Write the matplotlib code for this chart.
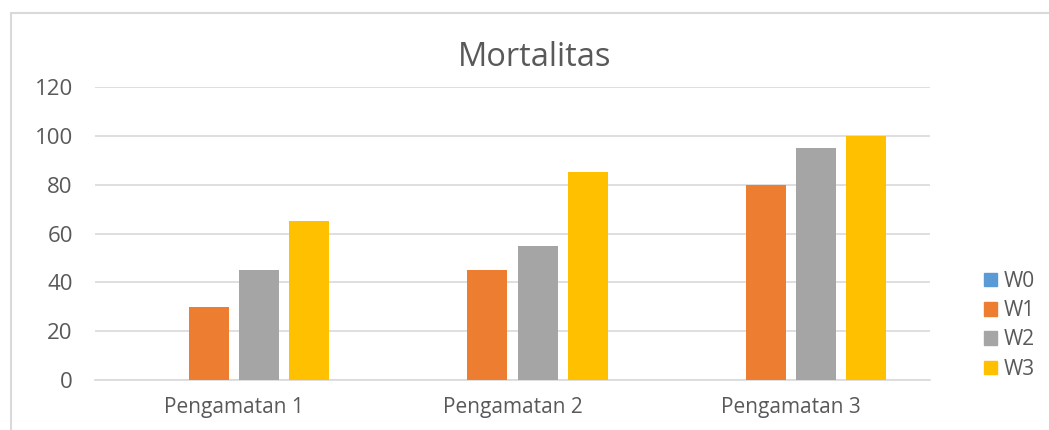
import matplotlib.pyplot as plt
import matplotlib.patches as mpatches
import numpy as np

categories = ["Pengamatan 1", "Pengamatan 2", "Pengamatan 3"]
series = ["W0", "W1", "W2", "W3"]
w0 = [0, 0, 0]
w1 = [30, 45, 80]
w2 = [45, 55, 95]
w3 = [65, 85, 100]
values = [w0, w1, w2, w3]
colors = ["#5B9BD5", "#ED7D31", "#A5A5A5", "#FFC000"]

plt.rcParams['font.family'] = ['Open Sans', 'DejaVu Sans']
txt = "#595959"

fig = plt.figure(figsize=(10.49, 4.3), dpi=100)
ax = fig.add_axes([95/1049, 1-380/430, 835/1049, 293/430])

# chart border (only top/left visible in the crop)
fig.add_artist(mpatches.Rectangle((11/1049, -0.5), 2, 0.5 + 1 - 13/430,
                                  transform=fig.transFigure, fill=False,
                                  edgecolor="#D9D9D9", linewidth=1.5))

x = np.arange(len(categories))
width = 0.144
offsets = [-0.27, -0.09, 0.09, 0.27]
for vals, off, col, name in zip(values, offsets, colors, series):
    ax.bar(x + off, vals, width, color=col, label=name, zorder=3)

ax.set_xlim(-0.5, 2.5)
ax.set_ylim(0, 120)
ax.set_yticks(range(0, 121, 20))
ax.set_xticks(x)
ax.set_xticklabels(categories)
ax.grid(axis='y', color="#D9D9D9", linewidth=1.2, zorder=0)
for s in ['top', 'right', 'left']:
    ax.spines[s].set_visible(False)
ax.spines['bottom'].set_color("#D9D9D9")
ax.spines['bottom'].set_linewidth(1.2)
ax.tick_params(axis='y', length=0, labelsize=16, colors=txt, pad=16)
ax.tick_params(axis='x', length=0, labelsize=15, colors=txt, pad=12)

fig.text(535/1049, 1-58/430, "Mortalitas", ha='center', va='center',
         fontsize=23.5, color=txt)

handles = [mpatches.Patch(color=c) for c in colors]
fig.legend(handles, series, loc='upper left', bbox_to_anchor=(965/1049, 1-252/430),
           frameon=False, fontsize=15, labelcolor=txt, handlelength=0.62,
           handleheight=0.62, handletextpad=0.35, labelspacing=0.4)

fig.savefig("out.png", dpi=100)
